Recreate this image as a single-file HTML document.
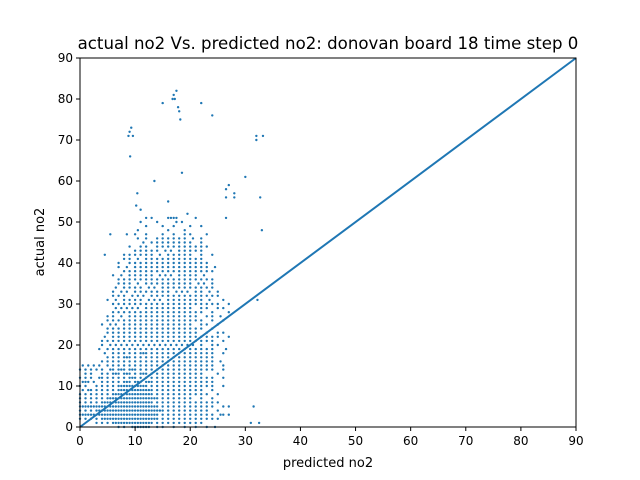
<!DOCTYPE html>
<html><head><meta charset="utf-8"><style>
html,body{margin:0;padding:0;background:#fff}
svg{display:block;font-family:"DejaVu Sans","Liberation Sans",sans-serif}
</style></head><body>
<svg id="chart" width="640" height="480" viewBox="0 0 640 480" xmlns="http://www.w3.org/2000/svg">
<rect x="0" y="0" width="640" height="480" fill="#fff"/>
<text x="328" y="49" font-size="16.6" text-anchor="middle" fill="#000">actual no2 Vs. predicted no2: donovan board 18 time step 0</text>
<g id="marks"></g>
<g id="axes"></g>
<text x="328" y="467" font-size="13" text-anchor="middle">predicted no2</text>
<text x="44" y="242" font-size="13" text-anchor="middle" transform="rotate(-90 44 242)">actual no2</text>
</svg>
<script>
const xTicks = [0,10,20,30,40,50,60,70,80,90];
const yTicks = [0,10,20,30,40,50,60,70,80,90];
const rowY = [0,1,2,3,4,5,6,7,8,9,10,11,12,13,14,15,16,17,18,19,20,21,22,23,24,25,26,27,28,29,30,31,32,33,34,35,36,37,38,39,40,41,42,43,44,45,46,47,48,49,50,51,52,53,54,55,56,57,58,59,60,61,62,66,70,71,72,73,75,76,77,78,79,80,81,82];
const rowX = [
[7,8,9.5,10,10.5,11,11.5,12,12.5,14,15,17,19,21,23,24.5],
[3,4,5,6,6.5,7,7.5,8,8.5,9,9.5,10,10.5,11,11.5,12,12.5,13,14,15,16,17,18,19,20,21,22,31,32.5],
[0,1,2,3,4,4.5,5,5.5,6,6.5,7,7.5,8,8.5,9,9.5,10,10.5,11,11.5,12,12.5,13,13.5,14,15,16,17,18,19,20,21,22,23,24,25],
[0,0.5,1,1.5,2,2.5,3,3.5,4,4.5,5,5.5,6,6.5,7,7.5,8,8.5,9,9.5,10,10.5,11,11.5,12,12.5,13,13.5,14,15,16,17,18,19,20,21,22,23,24,25.5,26,27],
[0,1,2,3,3.5,4,4.5,5,5.5,6,6.5,7,7.5,8,8.5,9,9.5,10,10.5,11,11.5,12,12.5,13,13.5,14,14.5,15,16,17,18,19,20,21,22,23,25],
[0,0.5,1,1.5,2,2.5,3,3.5,4,4.5,5,5.5,6,6.5,7,7.5,8,8.5,9,9.5,10,10.5,11,11.5,12,12.5,13,13.5,14,15,16,17,18,19,20,21,22,23,24,26,27,31.5],
[0,1,2,3,4,4.5,5,5.5,6,6.5,7,7.5,8,8.5,9,9.5,10,10.5,11,11.5,12,12.5,13,14,15,16,17,18,19,20,21,22,23,24,25],
[0,1,2,3,4,5,5.5,6,6.5,7,7.5,8,8.5,9,9.5,10,10.5,11,11.5,12,12.5,13,13.5,14,15,16,17,18,19,20,22,24],
[0,1,2,3,4,5,6,6.5,7,7.5,8,8.5,9,9.5,10,10.5,11,11.5,12,12.5,13,14,15,16,17,18,19,20,21,22,23,25],
[0.5,1.5,2,3,4,5,6,7,7.5,8,8.5,9,9.5,10,10.5,11,11.5,12,12.5,13,14,15,16,17,18,19,20,21,22,24],
[0,1,3,4,5,6,7,7.5,8,8.5,9,9.5,10,10.5,11,11.5,12,13,14,15,16,17,18,19,20,21,22,23,24,26],
[0.5,1,1.5,2.5,4,5,6,7,8,8.5,9,10,10.5,11,12,12.5,13,14,15,16,17,18,19,20,21,22,23,24],
[0,1,2,3.5,4,5,6,7,8,9,9.5,10,11,12,13,14,15,16,17,18,19,20,21,22,23,24,26],
[1,2,4,5,6,6.5,7,8,8.5,9,10,11,11.5,12,13,14,15,16,17,18,19,20,21,22,25],
[0,1,2,3,4,5.5,6,7,7.5,8,9,9.5,10,11,12,13,14,15,16,17,18,19,20,21,22,23,24,26],
[0.5,1.5,2.5,3.5,5,6,7,8,9,10,11,12,13,14,15,16,17,18,19,20,21,22,23,24,26],
[4,5,6,7,8,9,10,11,12,13,14,15,16,17,18,19,20,21,22,23,24,25.5],
[5,6,7,8,8.5,9,10,11,12,13,14,15,16,17,18,19,20,21,22,23,24],
[4.5,6,7,8,9,10,11,11.5,12,13,14,15,16,17,18,19,20,21,22,23,24,26],
[3.5,5,6,7,8,9,10,11,12,13,14,15,16,17,18,19,20,21,22,23,24,26.5],
[4,5.5,6.5,7.5,8.5,9.5,10.5,11.5,12.5,13.5,14.5,15.5,16.5,17.5,18.5,19.5,20.5,22,24,25],
[4,5,6,7,8,9,10,11,12,13,14,15,16,17,18,19,20,21,22,23,24,26],
[4.5,6,7,8,9,10,11,12,13,14,15,16,17,18,19,20,21,22,23,24,25,27],
[5,6,7,8,9,10,11,12,13,14,15,16,17,18,19,20,21,23,25,26],
[5,6,7,8,9,10,11,12,13,14,15,16,17,18,19,20,21,22,24],
[4,5.5,6.5,8,9,10,11,12,13,14,15,16,17,18,19,20,22,23,25],
[5,6,7,8,9,10,11,12,13,14,15,16,17,18,19,20,21,22,24,26],
[5,6,7.5,9,10,11,12,13,14,15,16,17,18,19,20,21,23,24,25.5],
[6,7,8,9,10,11,12,13,14,15,16,17,18,19,20,21,22,24,27],
[6.5,7.5,8.5,9.5,10.5,12,13,14,15,16,17,18,19,20,22,23,25,26],
[6,7,8,9,10,11,12,13,14,15,16,17,18,19,20,21,22,23,24,25,27],
[5,6.5,8,9,10,11,12.5,13.5,14.5,16,17,18,19,20,21,22,23.5,26,32.2],
[6,7,8,9.5,10.5,11.5,13,14,15,16,17,18,19,20,21,22,23,24,25],
[6,7.5,8.5,10,11,12,13,14,15,16,17.5,18.5,19.5,21,22,23.5,25],
[6.5,8,9,10,11,12.5,13.5,15,16,17,18,19,20,21,22,23,24],
[7,8,9,10.5,12,13,14,15,16,17,18,19,20,21.5,22.5,24],
[7,8,9,10,11,12,13,14,15,16,17,18,19,20,21,22,23,24],
[6,7.5,9,10,11,12,13,14.5,15.5,16.5,18,19,20,21,22.5],
[8,9,10,11,12,13,14,15,16,17,18,19,20,21,22,23,24],
[7,8.5,10,11,12,13,14,15,16,17,18,19,20,21,22,23,24.5],
[7,9,10,11,12,13,14,15,16,17,18,19,20,21,22,23],
[8,9,10.5,12,13,14,15,16,17,18,19,20,21,22],
[4.5,8,9,10,11,12,13,14.5,16,17,18,19,20,22,24],
[10,11,12,13,14,15.5,16.5,18,19,20,21,22],
[9,11,12,14,15,16,17,18,19,20,21,22,23],
[11.5,13,14,15,16,17,18,19,20,22],
[10.5,12,14,15,16,17,18,19,20.5,22],
[5.5,8.5,10,12,15,17,19,20,23],
[10.5,16,19,33],
[12,15,17,20,22],
[11,14,17.5,18.5],
[12,13,16,16.5,17,17.5,21,26.5],
[19.5],
[11],
[10.2],
[16],
[26.5,28,32.7],
[10.4,28],
[26.5],
[27],
[13.5],
[30],
[18.5],
[9.1],
[32],
[8.8,9.6,32,33.2],
[9],
[9.3],
[18.2],
[24],
[18],
[17.8],
[15,22],
[16.8,17.2],
[17],
[17.5]
];
const lineX = [0,90];
const lineY = [0,90];

const L=80,R=576,T=58,B=427;
const sx=v=>L+(v-0)/(90-0)*(R-L);
const sy=v=>B-(v-0)/(90-0)*(B-T);
const NS="http://www.w3.org/2000/svg";
const marks=document.getElementById('marks');
const axes=document.getElementById('axes');
function mk(tag,attrs,parent){const e=document.createElementNS(NS,tag);for(const k in attrs)e.setAttribute(k,attrs[k]);parent.appendChild(e);return e;}

for(let r=0;r<rowY.length;r++){
  for(let i=0;i<rowX[r].length;i++){
    const c=mk('circle',{cx:sx(rowX[r][i]).toFixed(2),cy:sy(rowY[r]).toFixed(2),r:1.2,fill:'#1f77b4'},marks);
    
    
  }
}
const ln=mk('line',{x1:sx(lineX[0]),y1:sy(lineY[0]),x2:sx(lineX[1]),y2:sy(lineY[1]),stroke:'#1f77b4','stroke-width':2},marks);



const fr=mk('rect',{x:L,y:T,width:R-L,height:B-T,fill:'none',stroke:'#000','stroke-width':1},axes);


xTicks.forEach(t=>{
  const tk=mk('line',{x1:sx(t),y1:B,x2:sx(t),y2:B+4,stroke:'#000'},axes);
  
  
  const tx=mk('text',{x:sx(t),y:B+18,'font-size':12,'text-anchor':'middle'},axes);
  tx.textContent=t;
  
  
});
yTicks.forEach(t=>{
  const tk=mk('line',{x1:L-4,y1:sy(t),x2:L,y2:sy(t),stroke:'#000'},axes);
  
  
  const tx=mk('text',{x:L-7,y:sy(t)+4,'font-size':12,'text-anchor':'end'},axes);
  tx.textContent=t;
  
  
});
</script>
</body></html>
